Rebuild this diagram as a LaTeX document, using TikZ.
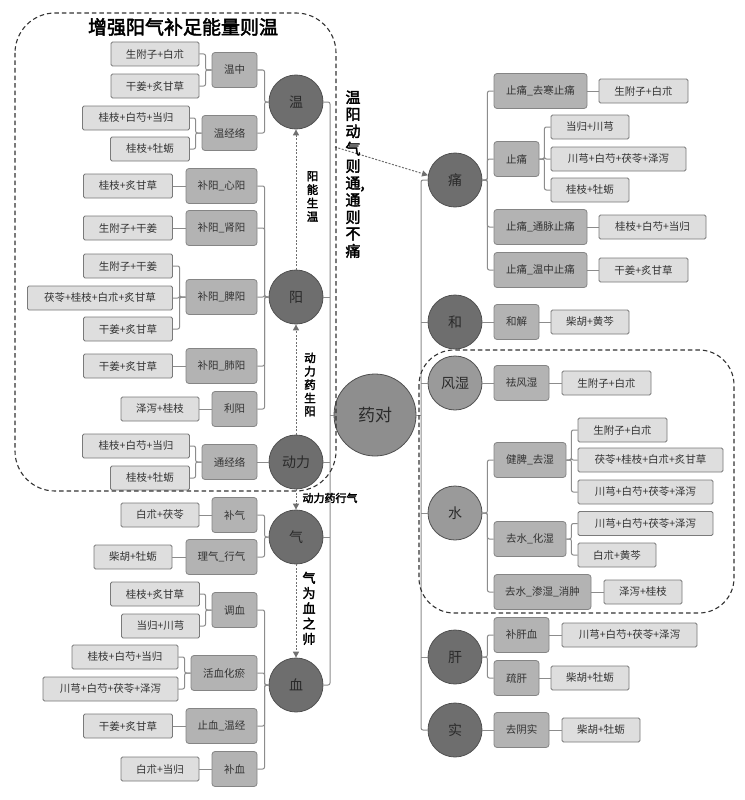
\documentclass[tikz,border=0pt]{standalone}
\usepackage{fontspec}
\setmainfont[AutoFakeBold=2.5]{Noto Sans CJK SC}
\usetikzlibrary{arrows.meta}
\definecolor{circD}{HTML}{6E6E6E}
\definecolor{circL}{HTML}{9A9A9A}
\definecolor{circM}{HTML}{8E8E8E}
\definecolor{circB}{HTML}{505050}
\definecolor{catF}{HTML}{B3B3B3}
\definecolor{catB}{HTML}{858585}
\definecolor{herbF}{HTML}{DEDEDE}
\definecolor{herbB}{HTML}{7A7A7A}
\definecolor{lnk}{HTML}{8C8C8C}
\definecolor{txt}{HTML}{333333}
\definecolor{ctxt}{HTML}{2A2A2A}
\definecolor{dsh}{HTML}{333333}
\newcommand{\vstack}[3]{{\bfseries\fontsize{#1}{#2}\selectfont\begin{tabular}{@{}c@{}}#3\end{tabular}}}
\tikzset{
  herb/.style={draw=herbB, fill=herbF, rounded corners=1.5pt, minimum height=24pt, inner sep=0pt, line width=0.8pt, text=txt, font=\fontsize{10.5}{12}\selectfont},
  cat/.style={draw=catB, fill=catF, rounded corners=3pt, minimum height=35pt, inner sep=0pt, line width=0.8pt, text=txt, font=\fontsize{10.5}{12}\selectfont},
  circ/.style={circle, draw=circB, fill=circD, minimum size=54pt, inner sep=0pt, line width=0.8pt, text=ctxt, font=\fontsize{14}{16}\selectfont},
  circlt/.style={circ, fill=circL},
  link/.style={draw=lnk, line width=1pt, rounded corners=2pt},
  darr/.style={draw=lnk!80!black, line width=1pt, dash pattern=on 2pt off 1.5pt, -{Triangle[length=6pt,width=6pt]}},
  region/.style={draw=dsh, line width=1.1pt, dash pattern=on 4.5pt off 3pt},
  vlab/.style={align=center, text=black, inner sep=0pt},
}
\begin{document}
\begin{tikzpicture}[x=1pt,y=-1pt]
\useasboundingbox (0,0) rectangle (744,800);
\fill[white] (0,0) rectangle (744,800);

% title
\node[font=\bfseries\fontsize{19}{22}\selectfont] (title) at (183,27) {增强阳气补足能量则温};

% left circles
\node[circ] (wen) at (296,102) {温};
\node[circ] (yang) at (296,297) {阳};
\node[circ] (dongli) at (296,462) {动力};
\node[circ] (qi) at (296,537) {气};
\node[circ] (xue) at (296,685) {血};
% center
\node[circle, draw=circB, fill=circM, minimum size=82pt, inner sep=0pt, line width=0.8pt, text=ctxt, font=\fontsize{17}{20}\selectfont] (yd) at (375,415) {药对};
% right circles
\node[circ] (tong) at (455,180) {痛};
\node[circ] (he) at (455,322) {和};
\node[circlt] (fs) at (455,383) {风湿};
\node[circlt] (shui) at (455,513) {水};
\node[circ] (gan) at (455,657) {肝};
\node[circ] (shi) at (455,730) {实};

% left categories
\node[cat, minimum width=45pt] (c1) at (234.5,70) {温中};
\node[cat, minimum width=55pt] (c2) at (229.5,133) {温经络};
\node[cat, minimum width=71pt] (c3) at (221.5,186) {补阳\_心阳};
\node[cat, minimum width=71pt] (c4) at (221.5,228) {补阳\_肾阳};
\node[cat, minimum width=71pt] (c5) at (221.5,297) {补阳\_脾阳};
\node[cat, minimum width=71pt] (c6) at (221.5,366) {补阳\_肺阳};
\node[cat, minimum width=45pt] (c7) at (234.5,409) {利阳};
\node[cat, minimum width=55pt] (c8) at (229.5,462) {通经络};
\node[cat, minimum width=45pt] (c9) at (234.5,515) {补气};
\node[cat, minimum width=71pt] (c10) at (221.5,557) {理气\_行气};
\node[cat, minimum width=45pt] (c11) at (234.5,610) {调血};
\node[cat, minimum width=66pt] (c12) at (224,673) {活血化瘀};
\node[cat, minimum width=71pt] (c13) at (221.5,726) {止血\_温经};
\node[cat, minimum width=45pt] (c14) at (234.5,769) {补血};

% left herbs
\node[herb, minimum width=88pt] (h1) at (155,54) {生附子+白朮};
\node[herb, minimum width=88pt] (h2) at (155,86) {干姜+炙甘草};
\node[herb, minimum width=107pt] (h3) at (136,118) {桂枝+白芍+当归};
\node[herb, minimum width=79pt] (h4) at (150,149) {桂枝+牡蛎};
\node[herb, minimum width=89pt] (h5) at (128,186) {桂枝+炙甘草};
\node[herb, minimum width=89pt] (h6) at (128,228) {生附子+干姜};
\node[herb, minimum width=89pt] (h7) at (128,266) {生附子+干姜};
\node[herb, minimum width=145pt] (h8) at (100,298) {茯苓+桂枝+白朮+炙甘草};
\node[herb, minimum width=89pt] (h9) at (128,329) {干姜+炙甘草};
\node[herb, minimum width=89pt] (h10) at (128,366) {干姜+炙甘草};
\node[herb, minimum width=78pt] (h11) at (160,409) {泽泻+桂枝};
\node[herb, minimum width=107pt] (h12) at (136,446) {桂枝+白芍+当归};
\node[herb, minimum width=79pt] (h13) at (150,478) {桂枝+牡蛎};
\node[herb, minimum width=78pt] (h14) at (160,515) {白朮+茯苓};
\node[herb, minimum width=78pt] (h15) at (133,557) {柴胡+牡蛎};
\node[herb, minimum width=89pt] (h16) at (155,594) {桂枝+炙甘草};
\node[herb, minimum width=78pt] (h17) at (160.5,626) {当归+川芎};
\node[herb, minimum width=106pt] (h18) at (125,657) {桂枝+白芍+当归};
\node[herb, minimum width=135pt] (h19) at (110.5,689) {川芎+白芍+茯苓+泽泻};
\node[herb, minimum width=89pt] (h20) at (128,726) {干姜+炙甘草};
\node[herb, minimum width=78pt] (h21) at (160,769) {白朮+当归};

% right categories
\node[cat, minimum width=93pt] (r1) at (540.5,91) {止痛\_去寒止痛};
\node[cat, minimum width=45pt] (r2) at (516.5,159) {止痛};
\node[cat, minimum width=93pt] (r3) at (540.5,227) {止痛\_通脉止痛};
\node[cat, minimum width=93pt] (r4) at (540.5,270) {止痛\_温中止痛};
\node[cat, minimum width=45pt] (r5) at (516.5,322) {和解};
\node[cat, minimum width=55pt] (r6) at (521.5,383) {祛风湿};
\node[cat, minimum width=72pt] (r7) at (530,460) {健脾\_去湿};
\node[cat, minimum width=72pt] (r8) at (530,539) {去水\_化湿};
\node[cat, minimum width=97pt] (r9) at (542.5,592) {去水\_渗湿\_消肿};
\node[cat, minimum width=55pt] (r10) at (521.5,635) {补肝血};
\node[cat, minimum width=45pt] (r11) at (516.5,678) {疏肝};
\node[cat, minimum width=55pt] (r12) at (521.5,730) {去阴实};

% right herbs
\node[herb, minimum width=89pt] (g1) at (643.5,91) {生附子+白朮};
\node[herb, minimum width=78pt] (g2) at (590,127) {当归+川芎};
\node[herb, minimum width=135pt] (g3) at (618.5,159) {川芎+白芍+茯苓+泽泻};
\node[herb, minimum width=78pt] (g4) at (590,190) {桂枝+牡蛎};
\node[herb, minimum width=107pt] (g5) at (652.5,227) {桂枝+白芍+当归};
\node[herb, minimum width=89pt] (g6) at (643.5,270) {干姜+炙甘草};
\node[herb, minimum width=78pt] (g7) at (590,322) {柴胡+黄芩};
\node[herb, minimum width=89pt] (g8) at (606.5,383) {生附子+白朮};
\node[herb, minimum width=89pt] (g9) at (622.5,430) {生附子+白朮};
\node[herb, minimum width=145pt] (g10) at (650.5,460) {茯苓+桂枝+白朮+炙甘草};
\node[herb, minimum width=135pt] (g11) at (645.5,492) {川芎+白芍+茯苓+泽泻};
\node[herb, minimum width=135pt] (g12) at (645.5,523.5) {川芎+白芍+茯苓+泽泻};
\node[herb, minimum width=78pt] (g13) at (617,555) {白朮+黄芩};
\node[herb, minimum width=78pt] (g14) at (643,592) {泽泻+桂枝};
\node[herb, minimum width=135pt] (g15) at (629.5,635) {川芎+白芍+茯苓+泽泻};
\node[herb, minimum width=78pt] (g16) at (590,678) {柴胡+牡蛎};
\node[herb, minimum width=78pt] (g17) at (601,730) {柴胡+牡蛎};

% ---- left links: herbs -> categories
\foreach \h/\c in {h1/c1,h2/c1,h3/c2,h4/c2,h7/c5,h8/c5,h9/c5,h12/c8,h13/c8,h16/c11,h17/c11,h18/c12,h19/c12}
  \draw[link] (\h.east) -| ([xshift=-6pt]\c.west) -- (\c.west);
\foreach \h/\c in {h5/c3,h6/c4,h10/c6,h11/c7,h14/c9,h15/c10,h20/c13,h21/c14}
  \draw[link] (\h.east) -- (\c.west);
% categories -> circles
\foreach \c/\k in {c1/wen,c2/wen,c3/yang,c4/yang,c5/yang,c6/yang,c7/yang,c9/qi,c10/qi,c11/xue,c12/xue,c13/xue,c14/xue}
  \draw[link] (\c.east) -| ([xshift=-4pt]\k.west) -- (\k.west);
\draw[link] (c8.east) -- (dongli.west);

% left trunk
\coordinate (LT) at (330,0);
\draw[link] (wen.east) -- (wen.east -| LT) -- (xue.east -| LT) -- (xue.east);
\foreach \k in {yang,dongli,qi} \draw[link] (\k.east) -- (\k.east -| LT);
\draw[link] (yd.west) -- (yd.west -| LT);

% right trunk
\coordinate (RT) at (421,0);
\draw[link] (tong.west) -- (tong.west -| RT) -- (shi.west -| RT) -- (shi.west);
\foreach \k in {he,fs,shui,gan} \draw[link] (\k.west) -- (\k.west -| RT);
\draw[link] (yd.east) -- (yd.east -| RT);

% right circles -> categories
\foreach \k/\c in {tong/r1,tong/r2,tong/r3,tong/r4,shui/r7,shui/r8,shui/r9,gan/r10,gan/r11}
  \draw[link] (\k.east) -- ([xshift=5pt]\k.east) |- (\c.west);
\foreach \k/\c in {he/r5,fs/r6,shi/r12}
  \draw[link] (\k.east) -- (\c.west);
% right categories -> herbs
\foreach \c/\h in {r2/g2,r2/g3,r2/g4,r7/g9,r7/g10,r7/g11,r8/g12,r8/g13}
  \draw[link] (\c.east) -- ([xshift=5pt]\c.east) |- (\h.west);
\foreach \c/\h in {r1/g1,r3/g5,r4/g6,r5/g7,r6/g8,r9/g14,r10/g15,r11/g16,r12/g17}
  \draw[link] (\c.east) -- (\h.west);

% dashed arrows
\draw[darr] (yang.north) -- (wen.south);
\draw[darr] (dongli.north) -- (yang.south);
\draw[darr] (dongli.south) -- (qi.north);
\draw[darr] (qi.south) -- (xue.north);
\coordinate (wystart) at (335,147);
\draw[darr] (wystart) -- (tong.170);

% labels
\node[vlab] (l1) at (312.5,198) {\vstack{11.5}{13}{阳\\能\\生\\温}};
\node[vlab] (l2) at (310,386) {\vstack{11.5}{12.6}{动\\力\\药\\生\\阳}};
\node[vlab, font=\bfseries\fontsize{11}{12}\selectfont] (l3) at (330,498) {动力药行气};
\node[vlab] (l4) at (309,610) {\vstack{13}{14.4}{气\\为\\血\\之\\帅}};
\node[vlab] (l5) at (353,176) {\vstack{15}{16}{温\\阳\\动\\气\\则\\通\rlap{,}\\通\\则\\不\\痛}};

% dashed regions
\draw[region, rounded corners=40pt] (15,13) rectangle (336,491);
\draw[region, rounded corners=35pt] (419,350) rectangle (734,613);
\end{tikzpicture}
\end{document}
